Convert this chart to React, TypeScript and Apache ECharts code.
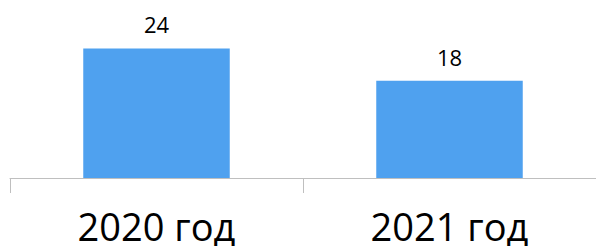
import React, { useEffect, useRef } from "react";
import * as echarts from "echarts";

const categories = ["2020 год", "2021 год"];
const values = [24, 18];

export default function App() {
  const ref = useRef<HTMLDivElement>(null);
  useEffect(() => {
    const chart = echarts.init(ref.current!, null, { renderer: "svg" });
    chart.setOption({
      animation: false,
      grid: { left: 10, right: 0, top: 16, bottom: 68 },
      xAxis: {
        type: "category",
        data: categories,
        axisLine: { lineStyle: { color: "#bfbfbf", width: 1 } },
        axisTick: { show: true, length: 15, lineStyle: { color: "#bfbfbf" } },
        axisLabel: {
          color: "#000",
          fontSize: 38,
          lineHeight: 34,
          fontFamily: "'Open Sans', sans-serif",
          margin: 31,
        },
      },
      yAxis: {
        type: "value",
        min: 0,
        max: 30,
        show: false,
        splitLine: { show: false },
      },
      series: [
        {
          type: "bar",
          data: values,
          barWidth: "50%",
          itemStyle: { color: "#4fa1ef" },
          label: {
            show: true,
            position: "top",
            distance: 13,
            color: "#000",
            fontSize: 22,
            fontFamily: "'Open Sans', sans-serif",
          },
        },
      ],
    });
    return () => chart.dispose();
  }, []);
  return <div ref={ref} style={{ width: 596, height: 246, position: "absolute", left: 0, top: 0 }} />;
}
